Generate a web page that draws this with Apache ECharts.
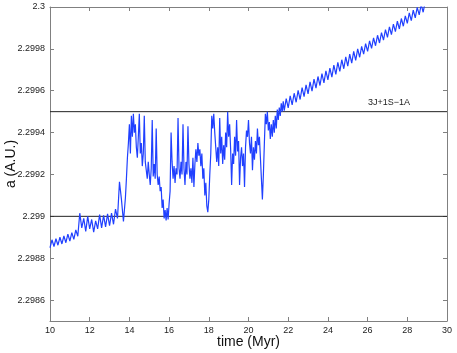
<!DOCTYPE html>
<html>
<head>
<meta charset="utf-8">
<script src="https://cdn.jsdelivr.net/npm/echarts@6/dist/echarts.min.js"></script>
<style>
  html, body { margin: 0; padding: 0; background: #fff; }
  #chart { width: 457px; height: 353px; }
</style>
</head>
<body>
<div id="chart"></div>
<script>
// semi-major axis a (A.U.) vs time (Myr) in three phases

// 10.0 .. 13.7 Myr, every 0.1 Myr
var quietStart = 10.0, quietStep = 0.1;
var quietPhase = [
  2.298850, 2.298888, 2.298856, 2.298893, 2.298862, 2.298900, 2.298868, 2.298906, 2.298874, 2.298915,
  2.298882, 2.298922, 2.298890, 2.298935, 2.298905, 2.299015, 2.298945, 2.298990, 2.298928, 2.299000,
  2.298940, 2.298985, 2.298925, 2.298978, 2.298940, 2.299008, 2.298945, 2.299005, 2.298950, 2.299012,
  2.298955, 2.299015, 2.298962, 2.299035, 2.298990, 2.299165, 2.299080, 2.298975
];

// 13.8 .. 21.75 Myr, every 0.05 Myr (chaotic, inside the resonance)
var chaosStart = 13.8, chaosStep = 0.05;
var chaosPhase = [
  2.299090, 2.299180, 2.299280, 2.299350,
  2.299440, 2.299300, 2.299480, 2.299380, 2.299490, 2.299400, 2.299440, 2.299330, 2.299280, 2.299380,
  2.299490, 2.299300, 2.299350, 2.299240, 2.299300, 2.299480, 2.299260, 2.299220, 2.299180, 2.299260,
  2.299200, 2.299150, 2.299230, 2.299460, 2.299190, 2.299250, 2.299180, 2.299420, 2.299200, 2.299150,
  2.299190, 2.299120, 2.299140, 2.299040, 2.299080, 2.298990, 2.299030, 2.298980, 2.299040, 2.298985,
  2.299060, 2.299120, 2.299400, 2.299260, 2.299180, 2.299240, 2.299160, 2.299230, 2.299200, 2.299470,
  2.299230, 2.299180, 2.299260, 2.299200, 2.299440, 2.299230, 2.299150, 2.299260, 2.299200, 2.299430,
  2.299250, 2.299180, 2.299230, 2.299160, 2.299280, 2.299140, 2.299250, 2.299320, 2.299260, 2.299350,
  2.299290, 2.299320, 2.299240, 2.299300, 2.299180, 2.299230, 2.299100, 2.299160, 2.299050, 2.299020,
  2.299080, 2.299200, 2.299300, 2.299480, 2.299420, 2.299490, 2.299400, 2.299330, 2.299260, 2.299330,
  2.299240, 2.299470, 2.299300, 2.299380, 2.299250, 2.299340, 2.299270, 2.299400, 2.299330, 2.299500,
  2.299380, 2.299440, 2.299320, 2.299150, 2.299300, 2.299250, 2.299380, 2.299290, 2.299460, 2.299310,
  2.299360, 2.299150, 2.299280, 2.299330, 2.299240, 2.299300, 2.299140, 2.299330, 2.299410, 2.299380,
  2.299460, 2.299350, 2.299300, 2.299380, 2.299220, 2.299330, 2.299270, 2.299360, 2.299300, 2.299420,
  2.299340, 2.299380, 2.299280, 2.299180, 2.299080, 2.299200, 2.299350, 2.299490, 2.299440, 2.299500,
  2.299410, 2.299450, 2.299370, 2.299440, 2.299380, 2.299460, 2.299400, 2.299480, 2.299420, 2.299510,
  2.299460, 2.299520, 2.299480, 2.299540, 2.299500, 2.299550
];

// 21.8 .. 28.9 Myr, every 0.1 Myr (steady drift out of the resonance)
var driftStart = 21.8, driftStep = 0.1;
var driftPhase = [
  2.299505, 2.299562,
  2.299518, 2.299575, 2.299532, 2.299588, 2.299545, 2.299602, 2.299558, 2.299615, 2.299572, 2.299628,
  2.299585, 2.299642, 2.299598, 2.299655, 2.299612, 2.299668, 2.299625, 2.299682, 2.299638, 2.299695,
  2.299652, 2.299708, 2.299665, 2.299722, 2.299678, 2.299735, 2.299692, 2.299748, 2.299705, 2.299762,
  2.299718, 2.299775, 2.299732, 2.299788, 2.299745, 2.299800, 2.299760, 2.299812, 2.299775, 2.299825,
  2.299788, 2.299838, 2.299802, 2.299852, 2.299815, 2.299865, 2.299828, 2.299878, 2.299842, 2.299892,
  2.299855, 2.299905, 2.299868, 2.299918, 2.299882, 2.299932, 2.299895, 2.299945, 2.299908, 2.299958,
  2.299922, 2.299972, 2.299935, 2.299985, 2.299948, 2.299998, 2.299962, 2.300012, 2.299975, 2.300025
];

var xMin = 10, xMax = 30;
var yMin = 2.2985, yMax = 2.3;
var yTicks = [2.2986, 2.2988, 2.299, 2.2992, 2.2994, 2.2996, 2.2998, 2.3];
var resonanceLevels = [2.2995, 2.299];
var resonanceName = '3J+1S\u22121A';
var resonanceLabelAt = [27.08, 2.299546];

var chart = echarts.init(document.getElementById('chart'));

var points = [];
function addPhase(t0, dt, vals) {
  for (var i = 0; i < vals.length; i++) {
    points.push([+(t0 + i * dt).toFixed(2), vals[i]]);
  }
}
addPhase(quietStart, quietStep, quietPhase);
addPhase(chaosStart, chaosStep, chaosPhase);
addPhase(driftStart, driftStep, driftPhase);

var frame = { show: true, lineStyle: { color: '#808080', width: 1 } };
var tick = { inside: true, length: 4, lineStyle: { color: '#808080' } };
var font = 'Liberation Sans, Arial, sans-serif';

function fmtY(v) {
  return String(+v.toFixed(4));
}

var levelSeries = resonanceLevels.map(function (v) {
  return {
    type: 'line',
    data: [[xMin, v], [xMax, v]],
    symbol: 'none',
    silent: true,
    z: 1,
    lineStyle: { color: '#222', width: 1 }
  };
});

var option = {
  animation: false,
  backgroundColor: '#fff',
  grid: { left: 50, right: 10, top: 7, bottom: 32, outerBoundsMode: 'none' },
  xAxis: [
    {
      type: 'value', min: xMin, max: xMax, interval: 2,
      name: 'time (Myr)', nameLocation: 'middle', nameGap: 14, nameMoveOverlap: false,
      nameTextStyle: { fontSize: 14, color: '#111', fontFamily: font },
      axisLine: frame,
      axisTick: tick,
      axisLabel: { fontSize: 9, color: '#222', margin: 5, fontFamily: font },
      splitLine: { show: false }
    },
    {
      type: 'value', position: 'top', min: xMin, max: xMax, interval: 2,
      axisLine: frame,
      axisTick: tick,
      axisLabel: { show: false },
      splitLine: { show: false }
    }
  ],
  yAxis: [
    {
      type: 'value', min: yMin, max: yMax,
      name: 'a (A.U.)', nameLocation: 'middle', nameGap: 32, nameMoveOverlap: false,
      nameTextStyle: { fontSize: 14, color: '#111', fontFamily: font },
      axisLine: frame,
      axisTick: Object.assign({ customValues: yTicks }, tick),
      axisLabel: { fontSize: 9, color: '#222', margin: 5, fontFamily: font, customValues: yTicks, formatter: fmtY },
      splitLine: { show: false }
    },
    {
      type: 'value', position: 'right', min: yMin, max: yMax,
      axisLine: frame,
      axisTick: Object.assign({ customValues: yTicks }, tick),
      axisLabel: { show: false },
      splitLine: { show: false }
    }
  ],
  series: levelSeries.concat([
    {
      type: 'line',
      data: points,
      showSymbol: false,
      symbol: 'none',
      z: 3,
      lineStyle: { color: '#2040ff', width: 1.2 },
      clip: true,
      markPoint: {
        silent: true,
        symbol: 'circle',
        symbolSize: 0,
        data: [{
          coord: resonanceLabelAt,
          label: { show: true, position: 'inside', formatter: resonanceName, fontSize: 9, color: '#222', fontFamily: font }
        }]
      }
    }
  ])
};

chart.setOption(option);
</script>
</body>
</html>
